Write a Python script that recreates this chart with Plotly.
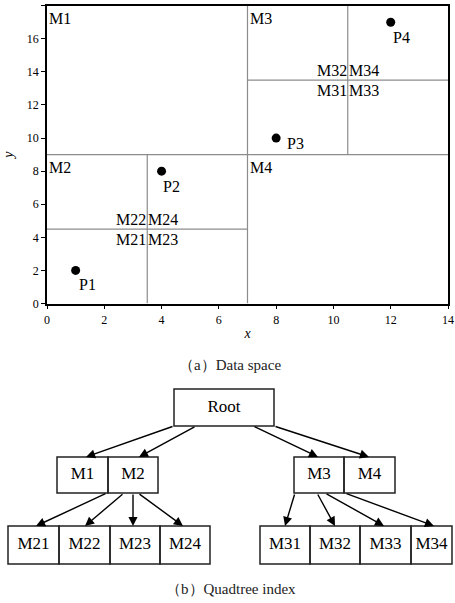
import plotly.graph_objects as go

# ---------------- data ----------------
point_names = ["P1", "P2", "P3", "P4"]
point_x = [1, 4, 8, 12]
point_y = [2, 8, 10, 17]

# partition lines (x0, y0, x1, y1) in data space
split_x0 = [3.5, 7, 10.5, 0, 0, 7]
split_y0 = [0, 0, 9, 9, 4.5, 13.5]
split_x1 = [3.5, 7, 10.5, 14, 7, 14]
split_y1 = [9, 18, 18, 9, 4.5, 13.5]

region_names = ["M1", "M2", "M3", "M4"]
region_x = [0, 0, 7, 7]
region_y = [18, 9, 18, 9]

sub_names = ["M22", "M24", "M21", "M23", "M32", "M34", "M31", "M33"]
sub_x = [3.5, 3.5, 3.5, 3.5, 10.5, 10.5, 10.5, 10.5]
sub_y = [4.5, 4.5, 4.5, 4.5, 13.5, 13.5, 13.5, 13.5]

x_ticks = [0, 2, 4, 6, 8, 10, 12, 14]
y_ticks = [0, 2, 4, 6, 8, 10, 12, 14, 16, 18]

tree_nodes = ["Root", "M1", "M2", "M3", "M4",
              "M21", "M22", "M23", "M24", "M31", "M32", "M33", "M34"]
tree_edges = [("Root", "M1"), ("Root", "M2"), ("Root", "M3"), ("Root", "M4"),
              ("M2", "M21"), ("M2", "M22"), ("M2", "M23"), ("M2", "M24"),
              ("M3", "M31"), ("M3", "M32"), ("M3", "M33"), ("M3", "M34")]

# ---------------- layout (pixel positions for the diagram) ----------------
W, H = 455, 603
box = {  # x0, x1, y0, y1 in pixels (y downward)
    "Root": (174, 274, 389, 426),
    "M1": (57, 108, 457, 493), "M2": (108, 158, 457, 493),
    "M3": (294, 344, 457, 493), "M4": (344, 395, 457, 493),
    "M21": (8, 59, 526, 564), "M22": (59, 110, 526, 564),
    "M23": (110, 160, 526, 564), "M24": (160, 210, 526, 564),
    "M31": (260, 310, 526, 564), "M32": (310, 360, 526, 564),
    "M33": (360, 411, 526, 564), "M34": (411, 452, 526, 564),
}
edge_px = [  # tail x, tail y, head x, head y
    (174, 426, 86, 457), (196, 426, 139, 457), (253, 426, 318, 457), (274, 426, 369, 457),
    (107, 493, 36, 526), (124, 493, 85, 526), (133, 493, 133, 526), (138, 493, 183, 526),
    (295, 493, 285, 526), (317, 493, 335, 526), (325, 493, 384, 526), (345, 493, 434, 526),
]
point_label_shift = [(12, -14), (10, -15), (19, -5), (11, -15)]

SERIF = "Liberation Serif"
GRAY = "#8c8c8c"

fig = go.Figure()

# partition lines
lx, ly = [], []
for a, b, c, d in zip(split_x0, split_y0, split_x1, split_y1):
    lx += [a, c, None]
    ly += [b, d, None]
fig.add_trace(go.Scatter(x=lx, y=ly, mode="lines", line=dict(color=GRAY, width=1.2),
                         hoverinfo="skip", showlegend=False, xaxis="x", yaxis="y"))

# points
fig.add_trace(go.Scatter(x=point_x, y=point_y, mode="markers",
                         marker=dict(color="black", size=9), showlegend=False,
                         xaxis="x", yaxis="y"))

annotations = []
for n, x, y, (dx, dy) in zip(point_names, point_x, point_y, point_label_shift):
    annotations.append(dict(x=x, y=y, xref="x", yref="y", text=n, showarrow=False,
                            xshift=dx, yshift=dy, font=dict(family=SERIF, size=16, color="black")))
for n, x, y in zip(region_names, region_x, region_y):
    annotations.append(dict(x=x, y=y, xref="x", yref="y", text=n, showarrow=False,
                            xanchor="left", yanchor="top", xshift=0, yshift=-2,
                            font=dict(family=SERIF, size=16, color="black")))
for i, (n, x, y) in enumerate(zip(sub_names, sub_x, sub_y)):
    left = (i % 2 == 0)
    top = (i % 4 < 2)
    annotations.append(dict(x=x, y=y, xref="x", yref="y", text=n, showarrow=False,
                            xanchor="right" if left else "left",
                            yanchor="bottom" if top else "top",
                            xshift=1 if left else -1, yshift=-1 if top else 0,
                            font=dict(family=SERIF, size=16, color="black")))

# ---------------- tree diagram ----------------
shapes = []
for n in tree_nodes:
    x0, x1, y0, y1 = box[n]
    shapes.append(dict(type="rect", xref="x2", yref="y2", x0=x0, x1=x1, y0=y0, y1=y1,
                       line=dict(color="#222", width=1.5), fillcolor="rgba(0,0,0,0)"))
fig.add_trace(go.Scatter(
    x=[(box[n][0] + box[n][1]) / 2 for n in tree_nodes],
    y=[(box[n][2] + box[n][3]) / 2 for n in tree_nodes],
    text=tree_nodes, mode="text", textposition="middle center",
    textfont=dict(family=SERIF, size=17, color="black"),
    showlegend=False, hoverinfo="skip", xaxis="x2", yaxis="y2"))

for (src, dst), (tx, ty, hx, hy) in zip(tree_edges, edge_px):
    annotations.append(dict(x=hx, y=hy, ax=tx, ay=ty, xref="x2", yref="y2",
                            axref="x2", ayref="y2", text="", showarrow=True,
                            arrowhead=2, arrowsize=1.3, arrowwidth=1.4,
                            arrowcolor="black", standoff=0, startstandoff=0))

# captions
annotations.append(dict(x=230, y=365, xref="x2", yref="y2", text="（a）Data space",
                        showarrow=False, font=dict(family=SERIF, size=15, color="#222")))
annotations.append(dict(x=231, y=589, xref="x2", yref="y2", text="（b）Quadtree index",
                        showarrow=False, font=dict(family=SERIF, size=15, color="#222")))

axis_common = dict(showline=True, linecolor="black", linewidth=1.6, mirror=True,
                   ticks="outside", ticklen=4, tickwidth=1, tickcolor="black",
                   showgrid=False, zeroline=False,
                   tickfont=dict(family=SERIF, size=12, color="black"), automargin=False)

fig.update_layout(
    width=W, height=H, autosize=False,
    margin=dict(l=0, r=0, t=0, b=0),
    font=dict(family=SERIF),
    paper_bgcolor="white", plot_bgcolor="rgba(0,0,0,0)",
    xaxis=dict(domain=[47 / W, 448 / W], range=[0, 14], tickvals=x_ticks,
               title=dict(text="<i>x</i>", font=dict(family=SERIF, size=14, color="black"), standoff=2),
               anchor="y", **axis_common),
    yaxis=dict(domain=[(H - 303.5) / H, (H - 5.7) / H], range=[0, 18], tickvals=y_ticks,
               title=dict(text="<i>y</i>", font=dict(family=SERIF, size=14, color="black"), standoff=10),
               anchor="x", **axis_common),
    xaxis2=dict(domain=[0, 1], range=[0, W], visible=False, anchor="y2", fixedrange=True),
    yaxis2=dict(domain=[0, 1], range=[H, 0], visible=False, anchor="x2", fixedrange=True),
    shapes=shapes, annotations=annotations,
)

fig.write_html("out.html", config={"displayModeBar": False},
               post_script="document.body.style.margin='0';document.body.style.overflow='hidden';")
